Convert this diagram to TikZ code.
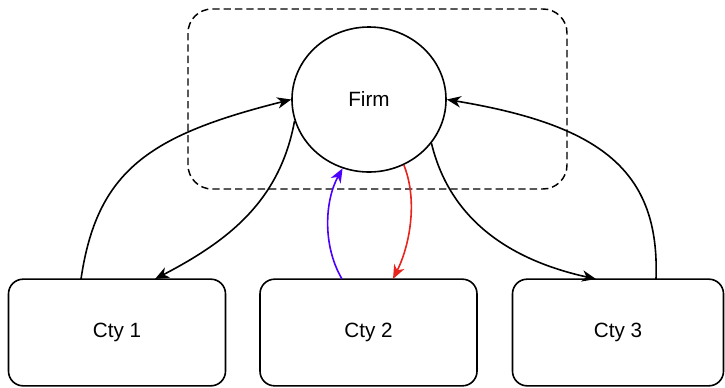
\documentclass[tikz,border=0pt]{standalone}
\usepackage{fontspec}
\setmainfont{Liberation Sans}
\usetikzlibrary{shapes.geometric,arrows.meta}
\definecolor{linkblue}{RGB}{76,0,255}
\definecolor{linkred}{RGB}{232,36,28}
\begin{document}
\begin{tikzpicture}[x=0.75pt,y=-0.75pt,
  line width=1.2pt,
  every node/.style={font=\fontsize{15.5pt}{18pt}\selectfont},
  firmnode/.style={ellipse,draw,inner sep=0pt,minimum width=115.5pt,minimum height=108.75pt},
  ctybox/.style={draw,rounded corners=11pt,inner sep=0pt,minimum width=162.75pt,minimum height=80pt},
  grouping/.style={draw,dashed,dash pattern=on 5.5pt off 3pt,rounded corners=18pt,line width=1.1pt},
  flow/.style={-{Stealth[length=10.5pt,width=8.5pt,inset=3.2pt]}}
]
\useasboundingbox (0,0) rectangle (725,387);

% firm boundary
\draw[grouping] (188,9) rectangle (567,189);

% nodes
\node[firmnode] (firm) at (369,99.5) {Firm};
\node[ctybox] (c1) at (117,332.5) {Cty 1};
\node[ctybox] (c2) at (368.5,332.5) {Cty 2};
\node[ctybox, minimum width=158.25pt] (c3) at (618,332.5) {Cty 3};

% connector end points on the node borders
\coordinate (c1a) at (81,279);
\coordinate (c1b) at (155,279);
\coordinate (c2a) at (342,279);
\coordinate (c2b) at (393,279);
\coordinate (c3a) at (596,279);
\coordinate (c3b) at (656,279);
\coordinate (fl) at (firm.180);
\coordinate (fr) at (firm.0);
\coordinate (fll) at (firm.196);
\coordinate (flr) at (firm.-35);
\coordinate (fbl) at (firm.-111);
\coordinate (fbr) at (firm.-62);

\draw[flow] (c1a) .. controls (97,170) and (150,135) .. (fl);
\draw[flow] (fll) .. controls (280,200) and (230,240) .. (c1b);
\draw[flow] (flr) .. controls (450,220) and (510,260) .. (c3a);
\draw[flow] (c3b) .. controls (660,170) and (600,125) .. (fr);
\draw[flow,linkblue] (c2a) .. controls (322,245) and (325,200) .. (fbl);
\draw[flow,linkred] (fbr) .. controls (418,200) and (410,245) .. (c2b);
\end{tikzpicture}
\end{document}
